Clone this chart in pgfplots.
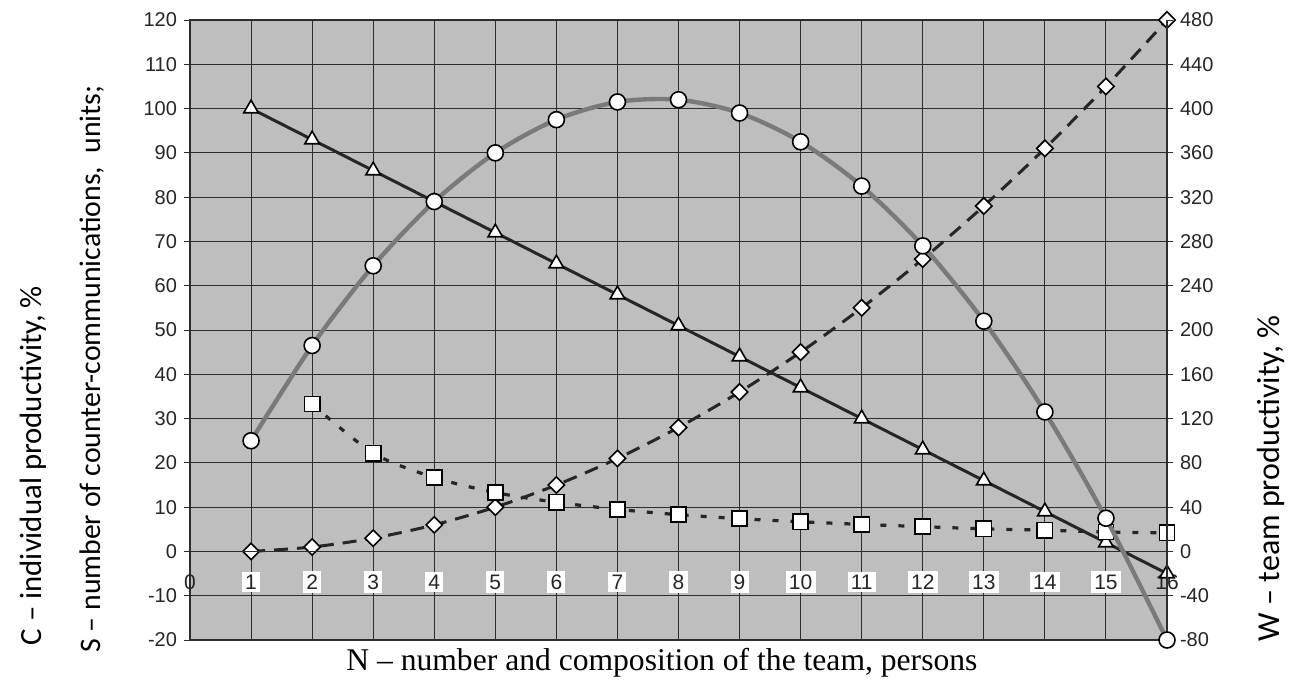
\documentclass[border=0pt]{standalone}
\usepackage{pgfplots}
\pgfplotsset{compat=1.18}
\usepackage{fontspec}
\setmainfont{Liberation Sans}
\newfontfamily\carlito{Carlito}
\newfontfamily\timesf{Liberation Serif}
\definecolor{bg}{RGB}{190,190,190}
\definecolor{gridc}{RGB}{45,45,45}
\definecolor{wline}{RGB}{122,122,122}
\definecolor{dark}{RGB}{38,38,38}
\begin{document}
\begin{tikzpicture}
\pgfplotsset{
  common/.style={
    scale only axis, width=488.5pt, height=310pt,
    at={(95pt,21pt)}, anchor=south west,
    xmin=0, xmax=16,
    /pgf/number format/assume math mode=true,
    tick label style={font=\fontsize{10}{12}\selectfont, text=black!85},
  }
}
% main axis: background, grid, left scale, C, S, squares
\begin{axis}[common,
  ymin=-20, ymax=120,
  ytick={-20,-10,...,120},
  xtick={1,...,15},
  extra x ticks={0,16},
  extra x tick style={xticklabel style={fill=none}},
  grid=major,
  grid style={gridc, line width=0.5pt},
  axis background/.style={fill=bg},
  axis line style={gridc, line width=0.6pt},
  ytick pos=left, tick align=outside,
  major tick length=3pt,
  x tick style={draw=none},
  y tick style={gridc, line width=0.5pt},
  xticklabel style={anchor=center, yshift=32pt, fill=white, inner sep=1.6pt, font=\fontsize{10.5}{12}\selectfont},
  clip=false,
]
\addplot[dark, line width=1.5pt, mark=triangle*, mark size=4.2pt,
  mark options={fill=white, draw=black, line width=0.8pt, solid}]
coordinates {(1,100)(2,93)(3,86)(4,79)(5,72)(6,65)(7,58)(8,51)(9,44)(10,37)(11,30)(12,23)(13,16)(14,9)(15,2)(16,-5)};
\addplot[dark, line width=1.5pt, dash pattern=on 7pt off 4.5pt, smooth, mark=square*, mark size=2.9pt,
  mark options={rotate=45, fill=white, draw=black, line width=0.8pt, solid}]
coordinates {(1,0)(2,1)(3,3)(4,6)(5,10)(6,15)(7,21)(8,28)(9,36)(10,45)(11,55)(12,66)(13,78)(14,91)(15,105)(16,120)};
\addplot[dark, line width=1.6pt, dash pattern=on 3pt off 6pt, smooth, mark=square*, mark size=3.8pt,
  mark options={fill=white, draw=black, line width=0.8pt, solid}]
coordinates {(2,33.3)(3,22.2)(4,16.7)(5,13.3)(6,11.1)(7,9.5)(8,8.3)(9,7.4)(10,6.7)(11,6.1)(12,5.6)(13,5.1)(14,4.8)(15,4.4)(16,4.2)};
\node[rotate=90, font=\carlito\fontsize{15.4}{18}\selectfont] at (axis description cs:-0.1607,0.2815) {C – individual productivity, \%};
\node[rotate=90, font=\carlito\fontsize{14.9}{18}\selectfont] at (axis description cs:-0.1003,0.437) {S – number of counter-communications,\ \ units;};
\node[rotate=90, font=\carlito\fontsize{16}{18}\selectfont] at (axis description cs:1.1065,0.2605) {W – team productivity, \%};
\node[anchor=base, font=\timesf\fontsize{15.8}{18}\selectfont] at (axis description cs:0.483,-0.0484) {N – number and composition of the team, persons};
\end{axis}
% zero line with half-step ticks
\begin{axis}[common,
  ymin=-20, ymax=120,
  axis x line=middle, axis y line=none,
  x axis line style={-, gridc, line width=0.7pt},
  xtick=\empty,
  minor xtick={0.5,1.5,...,15.5},
  minor tick length=4pt, tick align=center,
  minor x tick style={gridc, line width=0.5pt},
]
\end{axis}
% right axis: W
\begin{axis}[common,
  ymin=-80, ymax=480,
  ytick={-80,-40,...,480},
  axis y line*=right, axis x line=none,
  tick align=outside, major tick length=3pt,
  y tick style={gridc, line width=0.5pt},
  axis line style={gridc, line width=0.6pt},
  clip=false,
]
\addplot[wline, line width=2.2pt, smooth, mark=*, mark size=4pt,
  mark options={fill=white, draw=black, line width=0.8pt}]
coordinates {(1,100)(2,186)(3,258)(4,316)(5,360)(6,390)(7,406)(8,408)(9,396)(10,370)(11,330)(12,276)(13,208)(14,126)(15,30)(16,-80)};
\end{axis}
\pgfresetboundingbox
\path[use as bounding box] (0,0) rectangle (646.5pt,341pt);
\end{tikzpicture}
\end{document}
